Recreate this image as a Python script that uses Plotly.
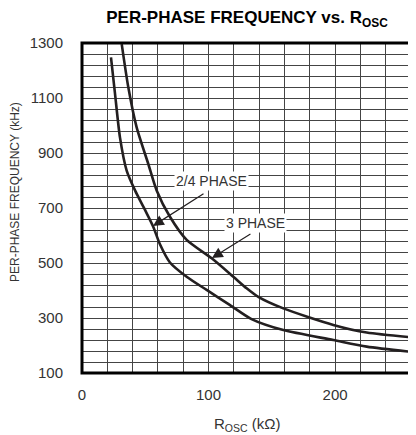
import plotly.graph_objects as go

# 2/4 PHASE curve (lower)
r_24 = [22.9, 26.1, 30.0, 35.3, 41.9, 49.8, 56.3, 61.6, 69.5, 82.7, 98.5, 117, 134, 159.1, 198.6, 225, 260]
f_24 = [1248, 1115, 957, 836, 764, 693, 632, 568, 502, 450, 402, 347, 296, 256, 220, 196, 177]

# 3 PHASE curve (upper)
r_3 = [31.4, 36.6, 43.2, 52.4, 59, 69.5, 82.7, 102.5, 119.6, 130.1, 139.3, 159.1, 198.6, 225, 260]
f_3 = [1296, 1139, 993, 860, 764, 668, 584, 517, 450, 408, 377, 335, 275, 247, 230]

x_ticks = [0, 100, 200]
y_ticks = [100, 300, 500, 700, 900, 1100, 1300]

FONT = "Liberation Sans, Arial, sans-serif"
INK = "#231f20"
TXT = "#333"

fig = go.Figure()
fig.add_trace(go.Scatter(x=r_24, y=f_24, mode="lines",
                         line=dict(color=INK, width=2.6, shape="spline", smoothing=0.7),
                         name="2/4 PHASE", showlegend=False))
fig.add_trace(go.Scatter(x=r_3, y=f_3, mode="lines",
                         line=dict(color=INK, width=2.6, shape="spline", smoothing=0.7),
                         name="3 PHASE", showlegend=False))

grid = "#444444"
fig.update_xaxes(range=[0, 260], tickvals=x_ticks, showgrid=False, zeroline=False,
                 showline=False, ticks="", ticklabelstandoff=11,
                 tickfont=dict(family=FONT, size=15, color=TXT),
                 minor=dict(dtick=20, tick0=0, showgrid=True, gridcolor=grid, gridwidth=1))
fig.update_yaxes(range=[100, 1300], tickvals=y_ticks, showgrid=False, zeroline=False,
                 showline=False, ticks="", ticklabelstandoff=18,
                 tickfont=dict(family=FONT, size=15, color=TXT),
                 minor=dict(dtick=40, tick0=100, showgrid=True, gridcolor=grid, gridwidth=1))

fig.add_shape(type="rect", xref="x domain", yref="y domain", x0=0, x1=1, y0=0, y1=1,
              line=dict(color="black", width=3), layer="above")

# labels
fig.add_annotation(x=102.3, y=800, text="2/4 PHASE", showarrow=False, bgcolor="white",
                   borderpad=1, font=dict(family=FONT, size=14, color=TXT))
fig.add_annotation(x=56.1, y=635, ax=97.2, ay=755, axref="x", ayref="y", text="",
                   showarrow=True, arrowhead=2, arrowsize=1.8, arrowwidth=1.2, arrowcolor=INK)
fig.add_annotation(x=137.5, y=647, text="3 PHASE", showarrow=False, bgcolor="white",
                   borderpad=1, font=dict(family=FONT, size=14, color=TXT))
fig.add_annotation(x=102.7, y=518, ax=134.3, ay=609, axref="x", ayref="y", text="",
                   showarrow=True, arrowhead=2, arrowsize=1.8, arrowwidth=1.2, arrowcolor=INK)

# axis titles
fig.add_annotation(xref="paper", yref="paper", x=(15 - 82) / 329, y=(373 - 192) / 330,
                   text="PER-PHASE FREQUENCY (kHz)", textangle=-90, showarrow=False,
                   xanchor="center", yanchor="middle",
                   font=dict(family=FONT, size=12, color=TXT))
fig.add_annotation(xref="paper", yref="paper", x=(247 - 82) / 329, y=(373 - 424) / 330,
                   text="R<sub>OSC</sub> (kΩ)", showarrow=False,
                   xanchor="center", yanchor="middle",
                   font=dict(family=FONT, size=15, color=TXT))

# the page body has an 8px default margin, so the figure is 8px smaller each way
fig.update_layout(
    width=408, height=427,
    margin=dict(l=74, r=5, t=35, b=62),
    paper_bgcolor="white", plot_bgcolor="white",
    title=dict(text="<b>PER-PHASE FREQUENCY vs. R<sub>OSC</sub></b>", x=(239 / 408), xanchor="center",
               y=1 - 9 / 427, yanchor="middle",
               font=dict(family=FONT, size=17, color="black")),
)

fig.write_html("out.html")
